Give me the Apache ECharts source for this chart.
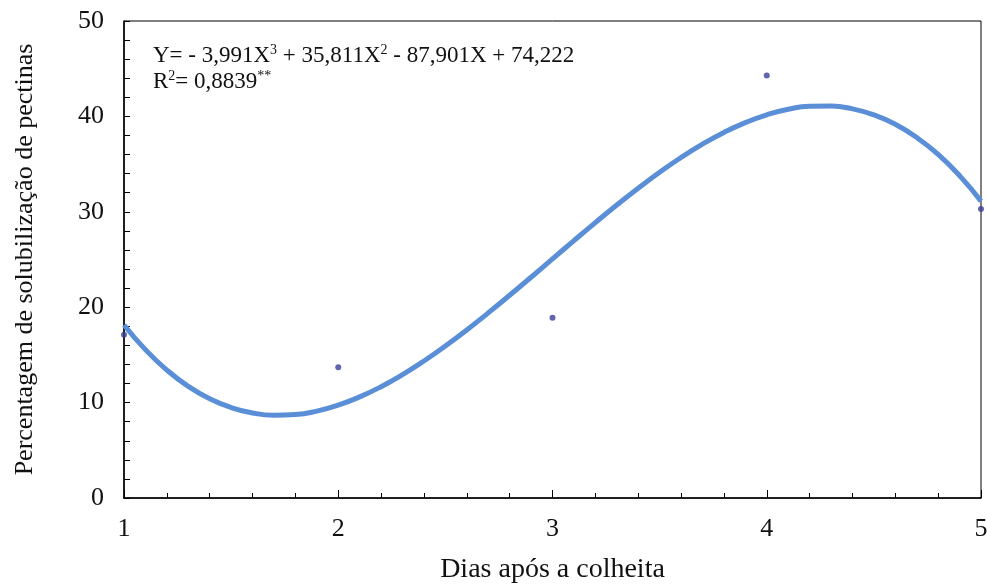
<!DOCTYPE html>
<html><head><meta charset="utf-8">
<script src="https://cdn.jsdelivr.net/npm/echarts@6/dist/echarts.min.js"></script>
<style>html,body{margin:0;padding:0;background:#fff}#c{width:987px;height:585px}</style>
</head><body><div id="c"></div>
<script>
// Observed data points
const obsX = [1, 2, 3, 4, 5];
const obsY = [17.1, 13.7, 18.9, 44.3, 30.3];
// Fitted curve
const curveX = [1.0, 1.1, 1.2, 1.3, 1.4, 1.5, 1.6, 1.7, 1.8, 1.9, 2.0, 2.1, 2.2, 2.3, 2.4, 2.5, 2.6, 2.7, 2.8, 2.9,
                3.0, 3.1, 3.2, 3.3, 3.4, 3.5, 3.6, 3.7, 3.8, 3.9, 4.0, 4.1, 4.2, 4.3, 4.4, 4.5, 4.6, 4.7, 4.8, 4.9, 5.0];
const curveY = [18.14, 15.55, 13.41, 11.70, 10.40, 9.48, 8.91, 8.68, 8.75, 9.11, 9.74, 10.60, 11.67, 12.93, 14.36, 15.93, 17.62, 19.40, 21.25, 23.14,
                25.06, 26.98, 28.87, 30.71, 32.47, 34.14, 35.69, 37.09, 38.32, 39.35, 40.17, 40.75, 41.06, 41.08, 40.79, 40.16, 39.17, 37.79, 36.01, 33.79, 31.12];
const xTicks = [1, 2, 3, 4, 5];
const yTicks = [0, 10, 20, 30, 40, 50];

const font = '"Liberation Serif", "Times New Roman", serif';
const chart = echarts.init(document.getElementById('c'));
chart.setOption({
  animation: false,
  backgroundColor: '#fff',
  grid: { left: 124, right: 6, top: 21, bottom: 87, show: true, borderColor: '#000', borderWidth: 1, outerBoundsMode: 'none', containLabel: false },
  xAxis: {
    type: 'value', min: xTicks[0], max: xTicks[xTicks.length - 1], interval: 1,
    name: 'Dias após a colheita', nameLocation: 'middle', nameGap: 58,
    nameTextStyle: { fontFamily: font, fontSize: 28, color: '#111' },
    axisLine: { lineStyle: { color: '#000', width: 1.5 } },
    axisTick: { inside: true, length: 8, lineStyle: { color: '#000' } },
    minorTick: { show: true, splitNumber: 5, length: 5, lineStyle: { color: '#000' } },
    axisLabel: { fontFamily: font, fontSize: 26, color: '#111', margin: 18 },
    splitLine: { show: false }
  },
  yAxis: {
    type: 'value', min: yTicks[0], max: yTicks[yTicks.length - 1], interval: 10,
    name: 'Percentagem de solubilização de pectinas', nameLocation: 'middle', nameGap: 86,
    nameTextStyle: { fontFamily: font, fontSize: 26, color: '#111' },
    axisLine: { lineStyle: { color: '#000', width: 1.5 } },
    axisTick: { inside: true, length: 6, lineStyle: { color: '#000' } },
    minorTick: { show: true, splitNumber: 5, length: 6, lineStyle: { color: '#000' } },
    axisLabel: { fontFamily: font, fontSize: 26, color: '#111', margin: 20 },
    splitLine: { show: false }
  },
  series: [
    {
      type: 'line', smooth: true, symbol: 'none',
      data: curveX.map((x, i) => [x, curveY[i]]),
      lineStyle: { color: '#5a8fd8', width: 5 },
      z: 2
    },
    {
      type: 'scatter', symbolSize: 6,
      data: obsX.map((x, i) => [x, obsY[i]]),
      itemStyle: { color: '#3a3f9a' },
      z: 3
    }
  ],
  graphic: [
    {
      type: 'text', left: 153, top: 43,
      style: {
        text: '{n|Y= - 3,991X}{s|3}{n| + 35,811X}{s|2}{n| - 87,901X + 74,222}\n{n|R}{s|2}{n|= 0,8839}{s|**}',
        rich: {
          n: { fontFamily: font, fontSize: 23, fill: '#111', lineHeight: 26 },
          s: { fontFamily: font, fontSize: 14, fill: '#111', verticalAlign: 'top', lineHeight: 26, padding: [0, 0, 10, 0] }
        }
      }
    }
  ]
});
</script></body></html>
